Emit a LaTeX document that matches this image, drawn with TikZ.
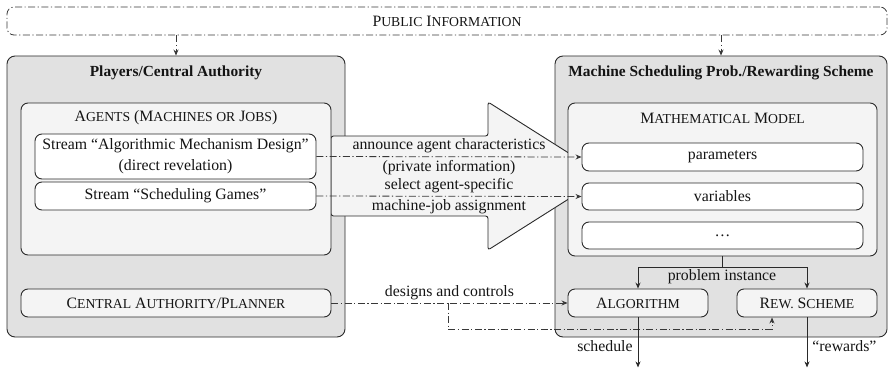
\documentclass[tikz,border=0pt]{standalone}
\usepackage{fontspec}
\setmainfont{Liberation Serif}
\usetikzlibrary{arrows.meta}
\definecolor{outerfill}{HTML}{E1E1E1}
\definecolor{innerfill}{HTML}{F4F4F4}
\definecolor{edge}{HTML}{2A2A2A}
\newcommand\scs{\fontsize{13.7pt}{16pt}\selectfont}
\tikzset{
  txt/.style={font=\fontsize{15.8pt}{21pt}\selectfont},
  every node/.style={txt, inner sep=0pt, text=black!92, align=center},
  boxbase/.style={draw=edge, line width=0.9pt, rounded corners=#1},
  outerbox/.style={boxbase=8pt, fill=outerfill},
  innerbox/.style={boxbase=7pt, fill=innerfill},
  whitebox/.style={boxbase=7pt, fill=white},
  boxtitle/.style={font=\fontsize{15.4pt}{20pt}\selectfont\bfseries},
  dd/.style={draw=black!78, line width=0.8pt, dash pattern=on 7pt off 2.5pt on 1.2pt off 2.5pt},
  tip/.style={-{Stealth[length=6pt,width=5pt]}},
  solidline/.style={draw=edge, line width=0.9pt},
  bigarrow/.style={draw=edge, line width=0.9pt, fill=innerfill, rounded corners=2.5pt}
}
\begin{document}
\begin{tikzpicture}[x=1pt,y=-1pt]
\useasboundingbox (0,0) rectangle (888,369);

% shared public information
\node[dd, rounded corners=7pt, minimum width=880pt, minimum height=28pt] (pub) at (447,21)
  {P{\scs UBLIC} I{\scs NFORMATION}};

% the two outer frames
\node[outerbox, minimum width=338pt, minimum height=281pt] (players) at (176,196.5) {};
\node[outerbox, minimum width=332pt, minimum height=281pt] (msp) at (721,196.5) {};
\node[boxtitle] (playersT) at (176,73) {Players/Central Authority};
\node[boxtitle] (mspT) at (721,73) {Machine Scheduling Prob./Rewarding Scheme};

\draw[dd, tip] (players.north |- pub.south) -- (players.north);
\draw[dd, tip] (msp.north |- pub.south) -- (msp.north);

% the broad interaction arrow between the frames
\draw[bigarrow] (331,136) -- (488,136) -- (488,102) -- (605,176) -- (488,250) -- (488,216) -- (331,216) -- cycle;

% left side contents
\node[innerbox, minimum width=310pt, minimum height=152pt] (agents) at (176,179) {};
\node (agentsT) at (176,118) {A{\scs GENTS} (M{\scs ACHINES OR} J{\scs OBS})};
\node[whitebox, minimum width=281pt, minimum height=45pt] (amd) at (175.5,156.5)
  {Stream “Algorithmic Mechanism Design”\\(direct revelation)};
\node[whitebox, minimum width=281pt, minimum height=28pt] (sg) at (175.5,196)
  {Stream “Scheduling Games”};
\node[innerbox, minimum width=310pt, minimum height=28pt] (cap) at (176,303)
  {C{\scs ENTRAL} A{\scs UTHORITY}/P{\scs LANNER}};

% right side contents
\node[innerbox, minimum width=309pt, minimum height=153pt] (mm) at (722.5,179.5) {};
\node (mmT) at (722.5,118) {M{\scs ATHEMATICAL} M{\scs ODEL}};
\node[whitebox, minimum width=281pt, minimum height=28pt] (params) at (722.5,157) {parameters};
\node[whitebox, minimum width=281pt, minimum height=27pt] (vars) at (722.5,196.5) {variables};
\node[whitebox, minimum width=281pt, minimum height=27pt] (more) at (722.5,235.5) {\ldots};
\node[innerbox, minimum width=140pt, minimum height=28pt] (algo) at (638,303) {A{\scs LGORITHM}};
\node[innerbox, minimum width=140pt, minimum height=28pt] (rew) at (807,303) {R{\scs EW.} S{\scs CHEME}};

% information flows
\draw[dd, tip] (amd.east) -- (params.west)
  node[midway, above=3pt] {announce agent characteristics}
  node[midway, below=3pt] {(private information)};
\draw[dd, tip] (sg.east) -- (vars.west)
  node[midway, above=3pt] {select agent-specific}
  node[midway, below=3pt] {machine-job assignment};
\draw[dd, tip] (cap.east) -- (algo.west)
  node[midway, above=3pt] {designs and controls}
  coordinate[pos=0.494] (split);
\draw[dd, tip] (split) -- ++(0,26) -| ([xshift=-35pt]rew.south);

% problem instance feeds both components
\draw[solidline] (mm.south) -- ++(0,11) coordinate (fork);
\draw[solidline, tip] (fork) -| (algo.north);
\draw[solidline, tip] (fork) -| (rew.north);
\node (pinst) at (722,277) {problem instance};

% outputs
\draw[solidline, tip] (algo.south) -- ++(0,50) node[pos=0.58, left=5pt] {schedule};
\draw[solidline, tip] (rew.south) -- ++(0,50) node[pos=0.58, right=5pt] {“rewards”};
\end{tikzpicture}
\end{document}
